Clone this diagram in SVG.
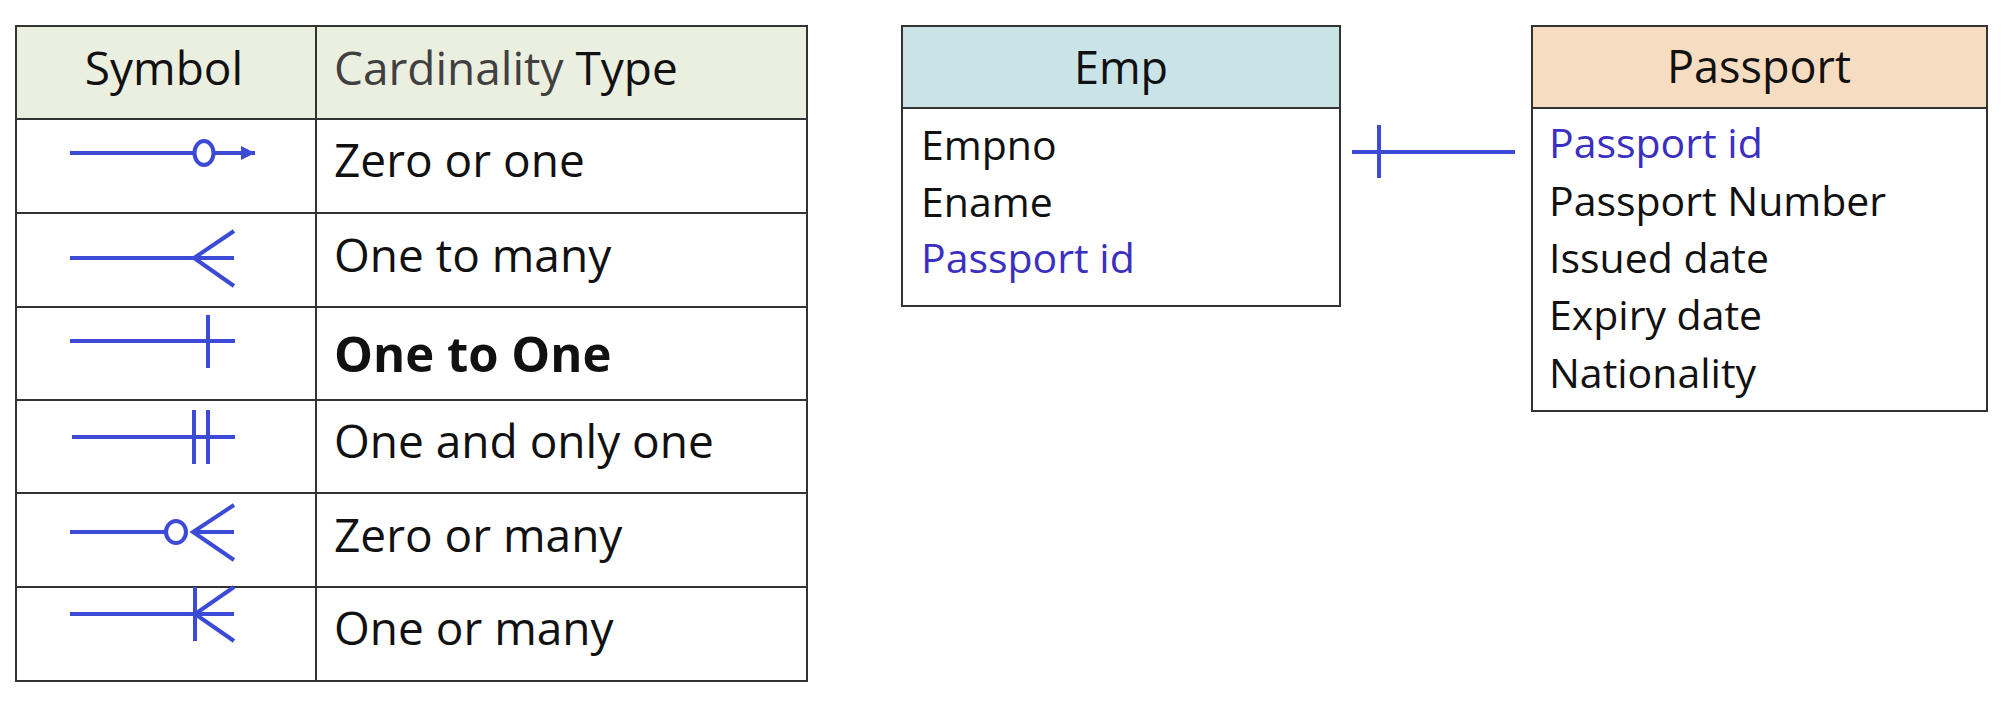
<svg xmlns="http://www.w3.org/2000/svg" width="2014" height="704" viewBox="0 0 2014 704">
<style>
  .t { font-family: "Open Sans", "Noto Sans", "Liberation Sans", sans-serif; fill: #111; }
  .tbl { font-size: 46px; }
  .fld { font-size: 41px; }
  .hdr { font-size: 45px; }
  .blue { fill: #3a2fc0; }
  .grid { stroke: #333; stroke-width: 2; fill: none; }
  .sym { stroke: #3b4bd6; stroke-width: 4; fill: none; stroke-linecap: butt; }
  .box { stroke: #333; stroke-width: 2; }
</style>
<defs>
  <marker id="arr" viewBox="0 0 14 14" refX="14" refY="7" markerWidth="14" markerHeight="14" markerUnits="userSpaceOnUse" orient="auto">
    <path d="M0,0 L14,7 L0,14 Z" fill="#3b4bd6"/>
  </marker>
</defs>
<rect width="2014" height="704" fill="#ffffff"/>

<g id="cardinality-table">
  <rect x="16" y="26" width="791" height="93" fill="#ebefdf"/>
  <rect x="16" y="26" width="791" height="655" class="grid"/>
  <line x1="316" y1="26" x2="316" y2="681" class="grid"/>
  <line x1="16" y1="119" x2="807" y2="119" class="grid"/>
  <line x1="16" y1="213" x2="807" y2="213" class="grid"/>
  <line x1="16" y1="307" x2="807" y2="307" class="grid"/>
  <line x1="16" y1="400" x2="807" y2="400" class="grid"/>
  <line x1="16" y1="493" x2="807" y2="493" class="grid"/>
  <line x1="16" y1="587" x2="807" y2="587" class="grid"/>

  <text x="164" y="85" text-anchor="middle" class="t tbl">Symbol</text>
  <text x="334" y="85" class="t tbl"><tspan fill="#404040">Cardinality</tspan> Type</text>

  <text x="334" y="177" class="t tbl">Zero or one</text>
  <text x="334" y="272" class="t tbl">One to many</text>
  <text x="334" y="372" class="t tbl" font-weight="bold" style="font-size:49px">One to One</text>
  <text x="334" y="458" class="t tbl">One and only one</text>
  <text x="334" y="552" class="t tbl">Zero or many</text>
  <text x="334" y="645" class="t tbl">One or many</text>

  <!-- Zero or one -->
  <g id="sym-zero-or-one">
    <line x1="70" y1="153" x2="194" y2="153" class="sym"/>
    <ellipse cx="204" cy="153" rx="9.5" ry="12" class="sym"/>
    <line x1="214" y1="153" x2="255" y2="153" class="sym" marker-end="url(#arr)"/>
  </g>
  <!-- One to many -->
  <g id="sym-one-to-many">
    <line x1="70" y1="258" x2="234" y2="258" class="sym"/>
    <polyline points="234,231 194,258 234,286" class="sym"/>
  </g>
  <!-- One to One -->
  <g id="sym-one-to-one">
    <line x1="70" y1="341" x2="235" y2="341" class="sym"/>
    <line x1="208" y1="315" x2="208" y2="368" class="sym"/>
  </g>
  <!-- One and only one -->
  <g id="sym-one-and-only-one">
    <line x1="72" y1="437" x2="235" y2="437" class="sym"/>
    <line x1="194" y1="410" x2="194" y2="464" class="sym"/>
    <line x1="208" y1="410" x2="208" y2="464" class="sym"/>
  </g>
  <!-- Zero or many -->
  <g id="sym-zero-or-many">
    <line x1="70" y1="532" x2="166" y2="532" class="sym"/>
    <ellipse cx="176" cy="532" rx="10" ry="11" class="sym"/>
    <line x1="193" y1="532" x2="234" y2="532" class="sym"/>
    <polyline points="234,505 193,532 234,560" class="sym"/>
  </g>
  <!-- One or many -->
  <g id="sym-one-or-many">
    <line x1="70" y1="614" x2="234" y2="614" class="sym"/>
    <line x1="195" y1="587" x2="195" y2="641" class="sym"/>
    <polyline points="234,587 195,614 234,641" class="sym"/>
  </g>
</g>

<g id="emp">
  <rect x="902" y="26" width="438" height="82" fill="#c9e3e7"/>
  <rect x="902" y="26" width="438" height="280" fill="none" class="box"/>
  <line x1="902" y1="108" x2="1340" y2="108" class="box"/>
  <text x="1121" y="84" text-anchor="middle" class="t hdr">Emp</text>
  <text x="921" y="160" class="t fld">Empno</text>
  <text x="921" y="217" class="t fld">Ename</text>
  <text x="921" y="273" class="t fld blue">Passport id</text>
</g>

<g id="passport">
  <rect x="1532" y="26" width="455" height="82" fill="#f6dcc1"/>
  <rect x="1532" y="26" width="455" height="385" fill="none" class="box"/>
  <line x1="1532" y1="108" x2="1987" y2="108" class="box"/>
  <text x="1759" y="83" text-anchor="middle" class="t hdr">Passport</text>
  <text x="1549" y="158" class="t fld blue">Passport id</text>
  <text x="1549" y="216" class="t fld">Passport Number</text>
  <text x="1549" y="273" class="t fld">Issued date</text>
  <text x="1549" y="330" class="t fld">Expiry date</text>
  <text x="1549" y="388" class="t fld">Nationality</text>
</g>

<g id="connectors">
  <line x1="1352" y1="152" x2="1515" y2="152" class="sym"/>
  <line x1="1379" y1="125" x2="1379" y2="178" class="sym"/>
</g>
</svg>
